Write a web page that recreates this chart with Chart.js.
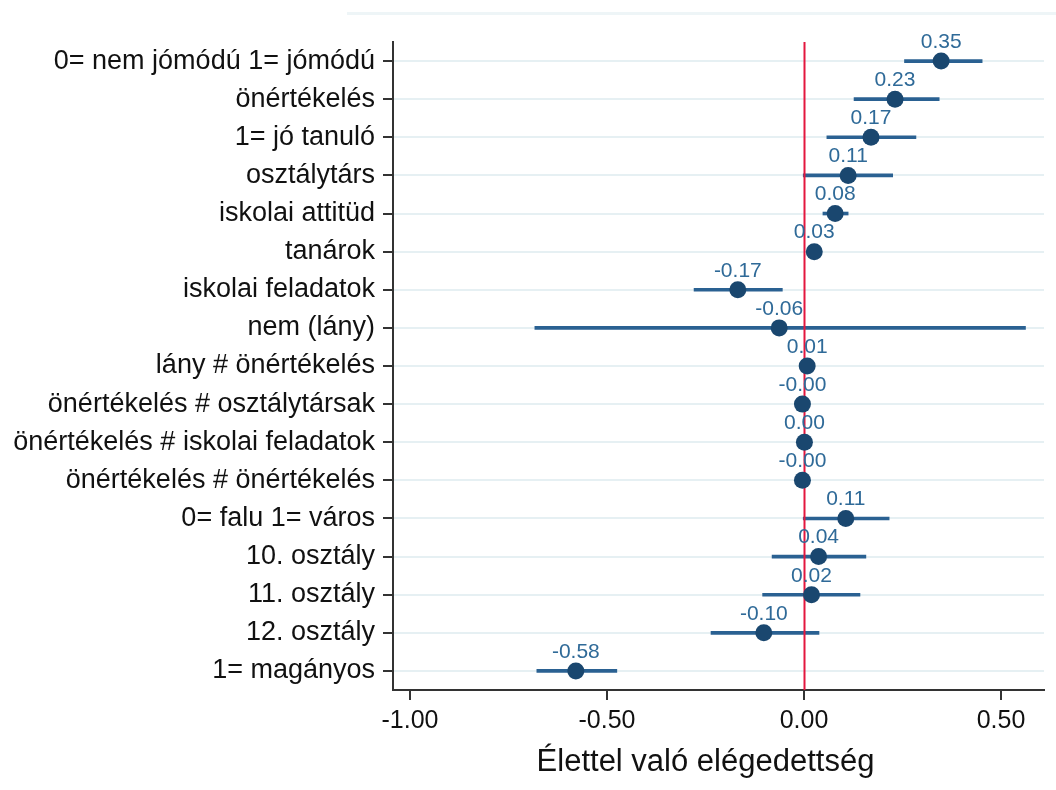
<!DOCTYPE html>
<html lang="hu">
<head>
<meta charset="utf-8">
<title>Élettel való elégedettség</title>
<script src="https://cdn.jsdelivr.net/npm/chart.js@4.4.1/dist/chart.umd.min.js"></script>
<style>
  html, body { margin: 0; padding: 0; background: #ffffff; }
  #wrap { position: relative; width: 1056px; height: 790px; }
  #topRule { position: absolute; left: 347px; top: 12px; width: 709px; height: 3px; background: #eef5f7; }
  canvas { position: absolute; left: 0; top: 0; }
</style>
</head>
<body>
<div id="wrap">
  <div id="topRule"></div>
  <canvas id="chart" width="1056" height="790"></canvas>
</div>
<script>
// Regression terms, top to bottom
const terms = [
  "0= nem jómódú 1= jómódú",
  "önértékelés",
  "1= jó tanuló",
  "osztálytárs",
  "iskolai attitüd",
  "tanárok",
  "iskolai feladatok",
  "nem (lány)",
  "lány # önértékelés",
  "önértékelés # osztálytársak",
  "önértékelés # iskolai feladatok",
  "önértékelés # önértékelés",
  "0= falu 1= város",
  "10. osztály",
  "11. osztály",
  "12. osztály",
  "1= magányos"
];

// Point estimates
const coef = [0.348, 0.231, 0.170, 0.112, 0.079, 0.026, -0.168, -0.063, 0.008, -0.004, 0.001, -0.004, 0.106, 0.037, 0.019, -0.102, -0.579];

// Confidence interval bounds
const ciLow  = [0.255, 0.127, 0.058, -0.002, 0.048, 0.018, -0.279, -0.683, 0.004, -0.006, -0.001, -0.005, -0.002, -0.081, -0.105, -0.236, -0.678];
const ciHigh = [0.452, 0.343, 0.284, 0.225, 0.112, 0.034, -0.055, 0.562, 0.012, -0.002, 0.003, -0.003, 0.216, 0.157, 0.142, 0.038, -0.475];

// Horizontal axis
const xTicks = [-1.0, -0.5, 0.0, 0.5];
const xMin = -1.043;
const xMax = 0.609;
const xTitle = "Élettel való elégedettség";

const FONT = "'Liberation Sans', Arial, sans-serif";

// Red reference line at zero, drawn over the interval bars but under the markers
const zeroLine = {
  id: 'zeroLine',
  afterDatasetDraw(chart, args) {
    if (args.index !== 1) return;
    const { ctx, chartArea, scales } = chart;
    const x = Math.round(scales.x.getPixelForValue(0)) + 0.5;
    ctx.save();
    ctx.strokeStyle = '#e3173f';
    ctx.lineWidth = 2;
    ctx.beginPath();
    ctx.moveTo(x, chartArea.top);
    ctx.lineTo(x, chartArea.bottom);
    ctx.stroke();
    ctx.restore();
  }
};

// Coefficient labels above each marker, plus the axis title under the tick labels
const valueLabels = {
  id: 'valueLabels',
  afterDatasetsDraw(chart) {
    const { ctx } = chart;
    const meta = chart.getDatasetMeta(0);
    ctx.save();
    ctx.font = '21px ' + FONT;
    ctx.fillStyle = '#2f6a98';
    ctx.textAlign = 'center';
    ctx.textBaseline = 'middle';
    meta.data.forEach((pt, i) => {
      ctx.fillText(coef[i].toFixed(2), pt.x, pt.y - 19);
    });
    ctx.restore();
  },
  afterDraw(chart) {
    const { ctx, scales } = chart;
    // The title sits centred between the -0.50 and 0.50 ticks
    const x = scales.x.getPixelForValue(-0.25);
    ctx.save();
    ctx.font = '31px ' + FONT;
    ctx.fillStyle = '#111111';
    ctx.textAlign = 'center';
    ctx.textBaseline = 'middle';
    ctx.fillText(xTitle, x, 762);
    ctx.restore();
  }
};

new Chart(document.getElementById('chart'), {
  type: 'bar',
  data: {
    labels: terms,
    datasets: [
      {
        type: 'line',
        data: coef,
        showLine: false,
        pointRadius: 8.5,
        pointHoverRadius: 8.5,
        pointBackgroundColor: '#1a476f',
        pointBorderWidth: 0,
        borderColor: '#1a476f'
      },
      {
        type: 'bar',
        data: ciLow.map((lo, i) => [lo, ciHigh[i]]),
        backgroundColor: '#2a6192',
        barThickness: 3,
        borderSkipped: false,
        borderWidth: 0
      }
    ]
  },
  options: {
    indexAxis: 'y',
    responsive: false,
    animation: false,
    events: [],
    layout: { padding: { top: 42, right: 12, bottom: 0, left: 0 } },
    plugins: {
      legend: { display: false },
      tooltip: { enabled: false },
      title: { display: false }
    },
    scales: {
      x: {
        type: 'linear',
        min: xMin,
        max: xMax,
        afterBuildTicks(scale) {
          scale.ticks = xTicks.map(v => ({ value: v }));
        },
        afterFit(scale) { scale.height = 100; },
        border: { display: true, color: '#333333', width: 2 },
        grid: {
          drawOnChartArea: false,
          drawTicks: true,
          tickLength: 10,
          tickColor: '#333333',
          lineWidth: 2
        },
        ticks: {
          padding: 6,
          color: '#111111',
          font: { family: FONT, size: 25 },
          callback: v => Number(v).toFixed(2)
        },
        title: { display: false }
      },
      y: {
        type: 'category',
        offset: true,
        afterFit(scale) { scale.width = 393; },
        border: { display: true, color: '#333333', width: 2 },
        grid: {
          offset: false,
          color: '#e6f0f3',
          lineWidth: 2,
          drawTicks: true,
          tickLength: 10,
          tickColor: '#333333'
        },
        ticks: {
          padding: 8,
          color: '#111111',
          autoSkip: false,
          font: { family: FONT, size: 27 }
        }
      }
    }
  },
  plugins: [zeroLine, valueLabels]
});
</script>
</body>
</html>
